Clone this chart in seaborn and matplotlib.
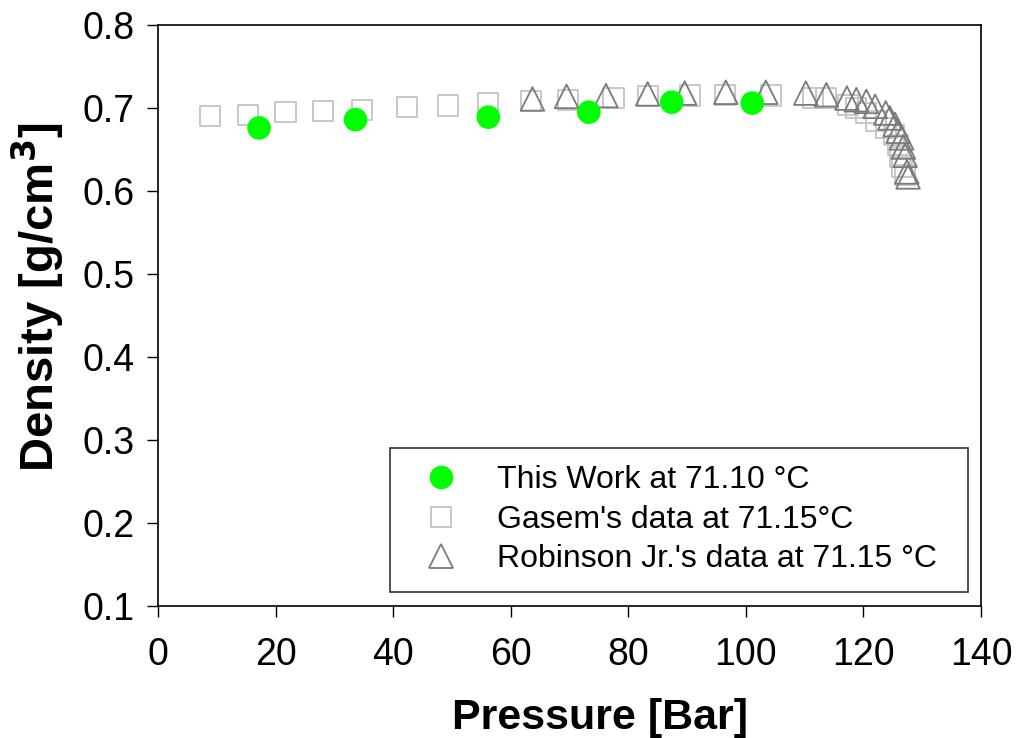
import matplotlib
matplotlib.use("Agg")
import matplotlib.pyplot as plt
import seaborn as sns
import pandas as pd

# This work at 71.10 °C
work_pressure = [17.2, 33.6, 56.2, 73.3, 87.4, 101.1]
work_density = [0.676, 0.686, 0.689, 0.695, 0.707, 0.706]

# Gasem's data at 71.15 °C
gasem_pressure = [8.8, 15.3, 21.7, 28.1, 34.7, 42.4, 49.4, 56.2, 63.4, 69.8,
                  77.5, 83.3, 90.5, 96.5, 104.3, 111.4, 113.7, 117.4, 118.8,
                  120.5, 122.2, 123.9, 125.2, 125.9, 126.2, 126.5, 127.1]
gasem_density = [0.690, 0.692, 0.695, 0.696, 0.698, 0.701, 0.703, 0.706, 0.708,
                 0.710, 0.712, 0.714, 0.715, 0.716, 0.715, 0.712, 0.712, 0.704,
                 0.700, 0.694, 0.684, 0.676, 0.667, 0.655, 0.641, 0.629, 0.619]

# Robinson Jr.'s data at 71.15 °C
robinson_pressure = [63.7, 69.5, 76.2, 83.3, 89.6, 96.6, 103.4, 110.2, 113.7,
                     117.2, 118.8, 120.5, 122.0, 123.8, 124.5, 125.4, 125.9,
                     126.5, 126.8, 127.1, 127.4, 127.6]
robinson_density = [0.711, 0.714, 0.715, 0.717, 0.718, 0.719, 0.719, 0.718,
                    0.716, 0.712, 0.710, 0.708, 0.702, 0.694, 0.688, 0.680,
                    0.672, 0.664, 0.653, 0.643, 0.623, 0.617]

labels = ["This Work at 71.10 °C", "Gasem's data at 71.15°C",
          "Robinson Jr.'s data at 71.15 °C"]
x_ticks = [0, 20, 40, 60, 80, 100, 120, 140]
y_ticks = [0.1, 0.2, 0.3, 0.4, 0.5, 0.6, 0.7, 0.8]

sns.set_theme(style="white")
plt.rcParams["font.family"] = ["Liberation Sans", "DejaVu Sans"]

fig = plt.figure(figsize=(10.16, 7.38), dpi=100)
ax = fig.add_axes([0.1555, 0.1789, 0.81, 0.7872])

gasem = pd.DataFrame({"p": gasem_pressure, "d": gasem_density})
robinson = pd.DataFrame({"p": robinson_pressure, "d": robinson_density})
work = pd.DataFrame({"p": work_pressure, "d": work_density})

sns.scatterplot(data=gasem, x="p", y="d", ax=ax, marker="s", s=14.5 ** 2,
                facecolors="none", edgecolor="#c4c4c4", linewidth=1.3,
                zorder=2)
sns.scatterplot(data=robinson, x="p", y="d", ax=ax, marker="^", s=17 ** 2,
                facecolors="none", edgecolor="#7a7a7a", linewidth=1.3,
                zorder=3)
sns.scatterplot(data=work, x="p", y="d", ax=ax, marker="o", s=17 ** 2,
                color="#00ff00", edgecolor="none", linewidth=0, zorder=4)

ax.set_xlim(0, 140)
ax.set_ylim(0.1, 0.8)
ax.set_xticks(x_ticks)
ax.set_yticks(y_ticks)
ax.set_xticklabels([str(v) for v in x_ticks])
ax.set_yticklabels([f"{v:.1f}" for v in y_ticks])
ax.tick_params(axis="both", direction="out", length=8, width=1,
               color="black", labelsize=27, labelcolor="black",
               bottom=True, left=True)
ax.tick_params(axis="x", pad=14)
ax.tick_params(axis="y", pad=9)

for spine in ax.spines.values():
    spine.set_color("black")
    spine.set_linewidth(1.2)

ax.set_xlabel("Pressure [Bar]", fontsize=31, fontweight="bold",
              color="black", labelpad=18)
ax.set_ylabel("Density [g/cm$^\\mathbf{3}$]", fontsize=34, fontweight="bold",
              color="black", labelpad=12)
ax.xaxis.label.set_x(0.537)
ax.yaxis.label.set_y(0.532)

handles = [
    plt.Line2D([], [], linestyle="none", marker="o", markersize=17,
               markerfacecolor="#00ff00", markeredgecolor="none"),
    plt.Line2D([], [], linestyle="none", marker="s", markersize=14.5,
               markerfacecolor="none", markeredgecolor="#c4c4c4",
               markeredgewidth=1.3),
    plt.Line2D([], [], linestyle="none", marker="^", markersize=17,
               markerfacecolor="none", markeredgecolor="#7a7a7a",
               markeredgewidth=1.3),
]
leg = ax.legend(handles, labels, loc="lower left",
                bbox_to_anchor=(0.2819, 0.0241, 0.7023, 0.0), mode="expand",
                fontsize=23, frameon=True, fancybox=False, shadow=False,
                borderpad=0.55, labelspacing=0.3, handletextpad=0.71,
                handlelength=2.08, borderaxespad=0)
leg.get_frame().set_edgecolor("black")
leg.get_frame().set_linewidth(1.2)
leg.get_frame().set_facecolor("white")
for txt in leg.get_texts():
    txt.set_color("black")

fig.savefig("out.png", dpi=100, facecolor="white")
